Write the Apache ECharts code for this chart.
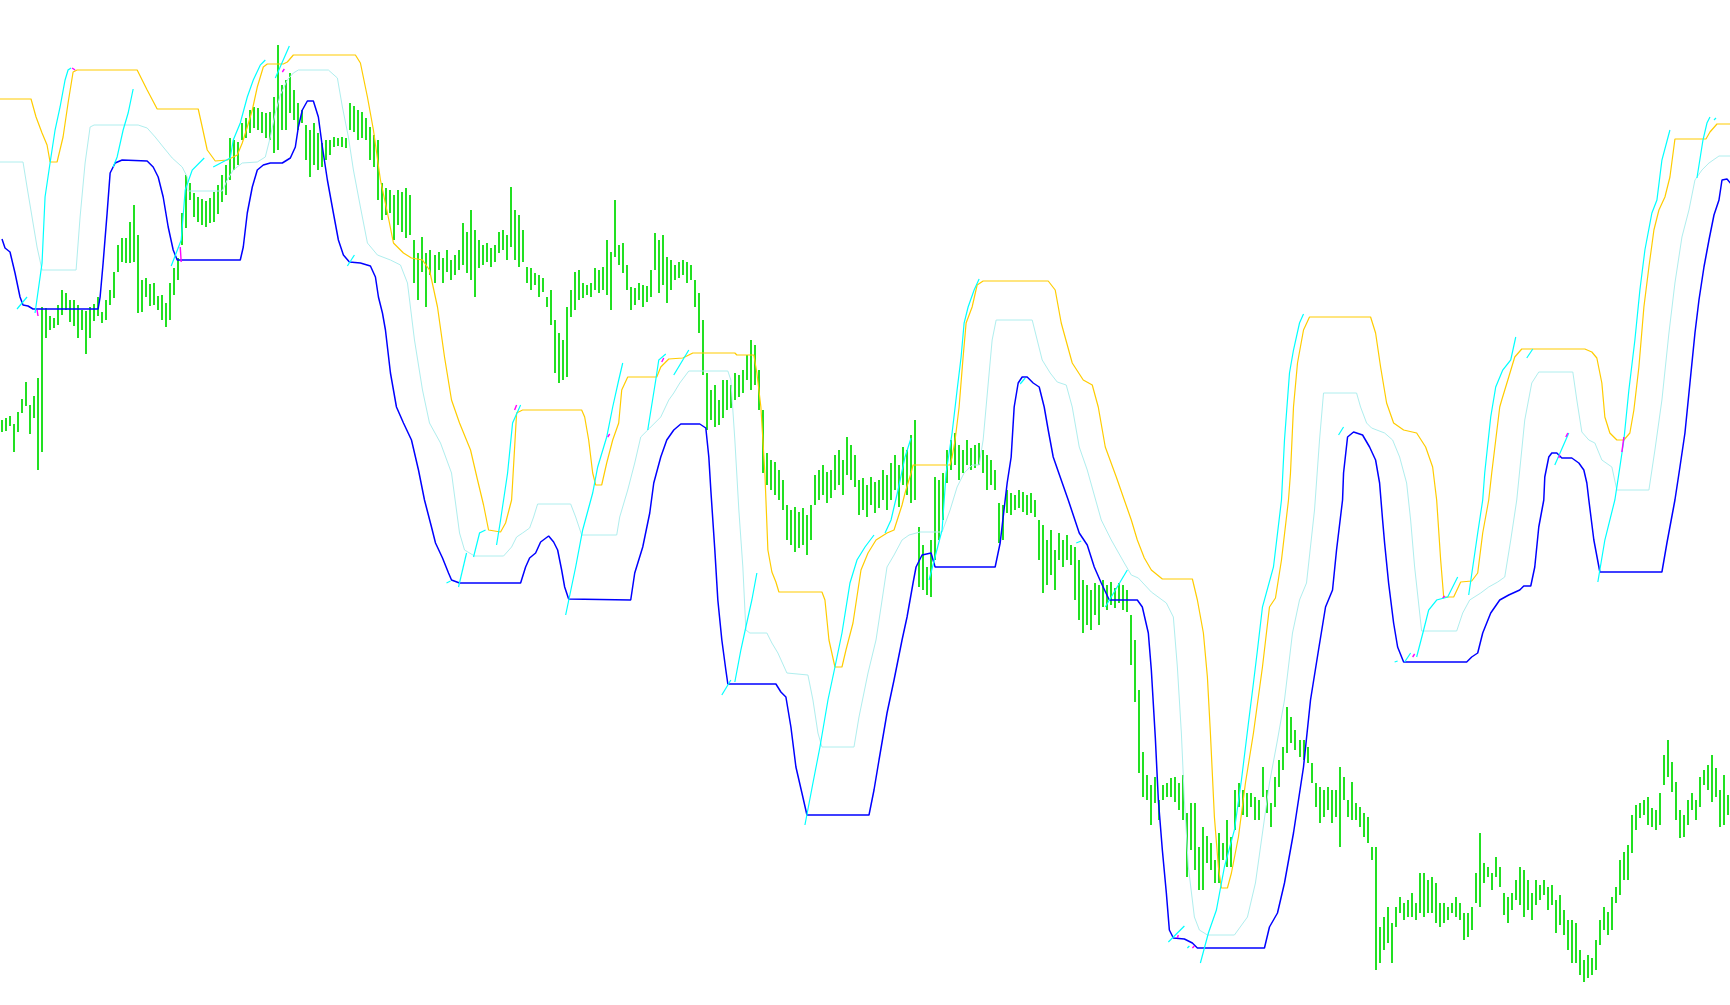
<!DOCTYPE html>
<html><head><meta charset="utf-8">
<script src="https://cdn.jsdelivr.net/npm/echarts@6/dist/echarts.min.js"></script>
<style>html,body{margin:0;padding:0;background:#fff}#c{width:1730px;height:1005px}</style>
</head><body><div id="c"></div>
<script>
// price bars (high / low), one per bar index
const barHigh = [
580,582,584,576,588,601,618,595,604,622,
693,692,684,682,695,710,707,700,700,695,
690,689,693,696,703,688,700,710,728,755,
762,762,778,795,765,720,722,716,717,704,
705,697,717,732,742,787,825,817,807,803,
801,799,802,808,815,825,835,862,860,858,
877,882,890,893,892,888,887,888,903,955,
915,920,927,910,897,890,875,870,877,867,
857,860,860,863,862,863,862,897,894,890,
888,882,873,865,860,817,812,810,805,810,
808,812,805,760,747,763,747,750,745,748,
742,750,740,745,750,777,768,790,770,760,
755,757,752,755,768,770,765,813,790,785,
770,733,732,727,725,722,703,710,680,667,
660,693,710,728,730,717,715,717,732,730,
733,760,748,800,755,757,735,713,712,717,
715,714,730,767,760,765,743,740,735,738,
740,738,735,720,707,680,627,610,615,600,
620,620,615,627,625,630,645,660,655,630,
590,547,540,538,530,520,495,490,493,488,
492,485,495,525,530,535,528,530,545,550,
540,563,555,545,520,522,515,523,518,520,
530,525,537,545,535,553,550,565,580,473,
455,433,460,523,520,527,550,560,567,555,
550,560,552,555,557,550,545,540,530,497,
495,510,507,505,510,508,505,507,500,480,
475,460,470,450,467,460,465,455,453,440,
420,415,410,417,415,420,415,418,412,417,
415,410,385,360,310,248,225,215,223,200,
215,217,222,223,217,225,187,197,197,153,
173,164,157,140,167,157,180,163,210,217,
210,207,207,203,200,233,210,197,223,240,
253,293,283,270,260,260,253,237,217,213,
210,213,210,210,233,223,200,218,197,193,
187,183,153,153,73,83,93,77,93,103,
97,100,107,97,127,127,120,123,117,97,
97,93,97,103,97,87,87,93,127,167,
137,133,127,143,133,107,103,107,120,133,
130,120,107,120,115,120,113,115,100,105,
90,80,80,77,50,40,45,42,60,80,
93,88,103,113,140,148,155,185,195,197,
200,203,192,190,207,245,260,238,218,190,
185,200,207,200,223,230,235,245,232,210,
225,205
];
const barLow = [
568,569,574,548,568,587,594,566,582,530,
548,662,670,672,675,685,690,678,674,662,
670,646,662,679,684,677,680,695,702,728,
738,737,737,738,687,688,703,694,695,690,
680,673,680,705,720,755,772,800,783,778,
775,773,777,778,786,798,805,820,830,835,
860,862,867,872,870,867,862,860,847,850,
870,870,887,880,870,877,840,823,835,830,
833,840,845,853,854,853,852,870,868,860,
862,860,840,833,800,780,785,787,760,775,
768,762,765,717,700,728,693,725,717,730,
717,728,720,725,730,735,727,720,703,732,
735,738,733,738,747,750,740,753,740,733,
738,717,710,715,703,708,693,675,627,617,
620,623,683,690,700,702,705,703,710,707,
710,705,690,743,735,727,710,690,695,700,
693,698,703,730,707,715,697,710,720,722,
725,717,720,693,667,625,570,580,573,575,
582,590,592,600,603,607,620,610,615,590,
527,515,510,505,500,490,460,455,448,452,
455,445,460,495,500,505,497,502,510,515,
505,525,520,513,485,490,483,495,487,492,
500,490,500,510,493,515,505,497,500,413,
410,405,403,440,460,480,517,530,535,520,
527,535,530,532,535,527,510,515,510,457,
460,487,485,490,492,488,485,487,483,440,
407,415,425,410,440,433,440,435,400,380,
367,375,370,385,375,393,390,395,392,397,
390,388,335,298,227,203,200,175,197,180,
200,203,203,198,190,180,123,150,130,110,
110,137,130,117,117,140,133,133,170,193,
185,183,193,180,180,203,187,173,193,213,
230,247,257,250,243,240,237,217,193,177,
183,190,177,183,153,200,183,180,180,173,
163,157,140,30,37,50,57,37,73,87,
80,83,83,80,87,83,87,87,77,73,
77,80,87,83,80,60,63,70,97,93,
117,123,110,123,113,85,77,90,100,95,
83,90,80,95,100,105,90,95,67,75,
65,50,37,37,25,18,22,25,30,55,
70,65,70,97,105,120,120,147,170,182,
185,175,173,170,175,215,223,208,180,162,
163,175,190,180,193,215,210,198,203,173,
175,185
];
// channel lines: [bar index, price]
const upperBand = [[0,901],[7.75,901],[9,883],[10.5,867],[11.75,855],[12.5,838],[14.25,838],[15.75,863],[17,897],[18.25,928],[19.25,930],[34.25,930],[36.75,910],[39.25,891],[49.5,891],[50.5,873],[51.75,850],[53.75,839],[56.75,840],[59.25,845],[60.5,857],[61.75,873],[63,890],[64.25,913],[65.75,933],[66.75,936],[70.75,936],[71.75,938],[73.25,945],[88.75,945],[90,937],[91.75,903],[93.25,870],[95,820],[96.75,787],[98.25,757],[100.75,747],[102.75,742],[105.5,740],[107.25,730],[109.25,693],[111,643],[112.75,600],[114.75,577],[117.5,550],[119.25,520],[120.75,495],[122,470],[125,468],[126.25,477],[127.75,500],[128,517],[129,587],[130.5,590],[145.25,590],[146,583],[147,560],[148,527],[148.75,515],[150.25,515],[151.5,537],[153,560],[154.5,577],[155.25,610],[156.75,623],[164,623],[165,633],[167,641],[170.5,642],[173,647],[183.5,647],[184,645],[188.25,645],[189,627],[190,593],[191,527],[191.75,450],[192.75,428],[193.75,418],[194.5,408],[205.25,408],[206,400],[207,360],[208.5,333],[210.25,333],[211.25,350],[213,377],[215,430],[216.75,447],[218.75,460],[221.5,467],[223.25,470],[225.25,495],[226,507],[227.5,527],[228,535],[237.25,535],[237.75,543],[238.5,560],[239.5,593],[240.5,643],[241.25,677],[242.75,693],[244,715],[245.5,719],[261.75,719],[263.5,710],[265,677],[267.75,637],[270.5,620],[272.75,615],[274.25,593],[276,553],[278.75,523],[280.75,500],[282.5,480],[284,460],[285.75,442],[287.5,430],[290.25,421],[297.75,421],[299,400],[300.5,367],[301.5,323],[302.25,267],[303.25,183],[304.25,133],[305,112],[306.5,112],[307.5,127],[309.25,163],[311,217],[313,267],[315.25,333],[317,393],[318.5,402],[320,440],[321.75,500],[322.25,527],[323,593],[324,637],[325.5,670],[327,683],[342.25,683],[343.5,667],[344.75,633],[346.25,597],[348,577],[350.5,570],[353.75,567],[356,553],[357.75,533],[358.75,500],[359.75,440],[360.5,403],[363,403],[364.75,418],[367.5,419],[369,427],[370.25,467],[371.75,500],[372.5,527],[374.5,593],[375,600],[376.75,623],[378.25,643],[380,651],[395.75,651],[397.5,648],[398.75,642],[400,617],[400.75,583],[402,567],[403.75,560],[405.5,560],[407,567],[408,590],[409.25,633],[410.5,693],[411.75,733],[413,770],[414.25,790],[415.75,803],[417,823],[418.25,861],[426,861],[427,868],[428.75,876],[432.5,876]];
const middleBand = [[0,838],[5.75,838],[6.75,813],[8,783],[9.25,753],[10.5,730],[19,730],[20,783],[21.25,837],[22.5,873],[23.5,875],[34.5,875],[36.75,872],[38.75,863],[40.75,853],[43,842],[45.5,833],[46.75,823],[47,809],[55.5,809],[56.75,820],[58.25,830],[60.5,837],[64.25,838],[66.25,843],[67.5,863],[68.75,887],[70,905],[71.75,920],[73.25,927],[74.5,930],[82,930],[84.25,922],[85.5,893],[87,863],[88.25,830],[90,793],[91.75,757],[94.25,745],[97.5,740],[100,735],[101.75,717],[103.5,660],[105.5,610],[107.25,577],[110,557],[112.75,527],[114.75,467],[116,450],[118.5,444],[125.75,444],[127.75,453],[129,463],[130.5,467],[132.25,472],[133.25,483],[134.25,496],[142.5,496],[143.75,483],[145.25,465],[154,465],[154.75,483],[156.75,510],[158.5,537],[160,563],[162.25,572],[165,583],[167,600],[168.25,607],[169.75,617],[172,629],[181.75,629],[182.5,620],[183.5,560],[184.5,490],[185.5,433],[186.25,370],[187.25,367],[191.5,367],[192.75,357],[194.25,347],[196.5,327],[201.75,325],[203,300],[204.25,267],[205.25,253],[213.25,253],[214.5,283],[216.75,327],[218.75,360],[220,393],[221.5,433],[223.25,445],[225.25,460],[227,465],[229.75,468],[235.25,468],[237.25,490],[239,513],[240.75,527],[242.75,535],[244.5,535],[245.5,560],[247,627],[247.75,660],[248.75,680],[257.75,680],[259,660],[260.25,640],[262.25,627],[264,618],[266.25,615],[267.75,593],[269.5,553],[271.5,530],[273.25,505],[275,480],[277.5,460],[280.75,437],[282.5,425],[284.25,422],[287.5,408],[291.25,397],[293,383],[294,333],[295,267],[295.75,200],[296.75,133],[298.25,83],[299.5,70],[301.5,65],[308.25,65],[311.5,83],[313.5,117],[315.25,167],[317,217],[319,260],[320.75,300],[322.75,367],[324.5,400],[326.25,417],[328.25,490],[329.5,560],[330.5,607],[338.75,607],[339.75,593],[341.25,577],[342.5,572],[345.75,567],[347.75,560],[349.5,543],[351.25,517],[352.25,480],[353.25,433],[355,369],[363.75,369],[365.25,387],[367,400],[369.75,407],[371.75,413],[374,418],[375.75,423],[377.25,460],[378.75,500],[380.75,580],[382.5,617],[384.25,628],[392.75,628],[393.75,600],[395,568],[396.75,560],[398.25,557],[400,540],[402.5,533],[403.75,510],[411.75,510],[413.25,550],[415,600],[416.75,667],[418.25,717],[420,763],[421.75,790],[423.25,820],[425,830],[426.75,837],[429.25,844],[432.5,844]];
const lowerBand = [[0.5,761],[1.25,752],[2.5,748],[3.75,727],[5,703],[5.75,695],[7,694],[8.25,691],[24.5,691],[25,703],[25.75,737],[26.75,787],[27.5,827],[28.75,837],[30.5,840],[36.75,839],[38.25,833],[39.5,823],[40.75,803],[42,773],[43.25,750],[44.25,740],[60,740],[60.75,753],[61.75,787],[63,813],[64.25,830],[65.75,835],[67.5,837],[70.5,837],[72.5,842],[73.75,853],[74.5,873],[75.5,890],[76.75,899],[78.25,899],[79.5,883],[80.5,853],[81.75,820],[83.25,787],[84.5,760],[85.75,745],[87.25,738],[90,737],[92.5,734],[93.75,723],[94.5,703],[95.5,687],[96.25,670],[97.5,627],[99,593],[100.75,577],[102.75,560],[104.5,530],[106,500],[107.75,473],[108.75,457],[110.5,442],[112,427],[112.75,420],[114.75,417],[130,417],[131.25,433],[132.25,442],[133.75,447],[135,458],[137,464],[138.25,458],[139.25,450],[140.25,430],[141,413],[142,401],[157.5,400],[158.5,427],[160.5,453],[162.25,487],[163.25,517],[165,543],[166.5,560],[168.25,570],[170,576],[174.75,576],[176.25,572],[177,543],[177.5,510],[178.5,450],[179.25,400],[180.25,360],[181.25,330],[181.75,316],[193.75,316],[195,308],[196.25,303],[197.5,273],[198.75,233],[200.25,207],[201.5,185],[217,185],[218.25,210],[219.5,240],[221.5,287],[223.25,320],[225.25,360],[226.5,383],[228,417],[228.75,433],[230.25,445],[232.5,447],[233.5,433],[248.5,433],[249.75,457],[251,500],[251.5,517],[252.5,543],[253.25,593],[254.25,617],[255.25,623],[256.5,623],[258,617],[259.5,613],[260.75,593],[261.75,570],[263,543],[265,520],[266.75,500],[269.5,467],[271.5,455],[273.25,433],[275,417],[277,400],[284,400],[285.25,393],[286.75,367],[287.5,330],[288.5,262],[289.25,200],[290.25,150],[291.25,107],[292,70],[293,62],[295.75,61],[297.75,57],[299,52],[315.75,52],[317,73],[319,87],[320.75,117],[323,167],[325.5,233],[327.25,300],[329.25,350],[331,393],[332.75,410],[333.75,450],[335.25,500],[335.5,527],[336.5,563],[338,568],[340.25,565],[342,553],[343.5,540],[344.5,517],[345.25,480],[345.75,457],[346.75,417],[348,377],[349,353],[350.5,338],[366.25,338],[367.5,343],[369,347],[370.25,367],[372.25,387],[374.5,400],[376.75,405],[379.5,410],[380.5,414],[382.25,414],[383.25,433],[384.25,473],[385.5,500],[385.75,523],[386.75,543],[387.5,547],[388.75,547],[390,542],[392.5,542],[394.25,537],[395.5,530],[396.25,517],[396.75,500],[398,460],[399.5,428],[415,428],[416.25,457],[418.25,500],[419.5,533],[420.75,567],[422,617],[423.25,667],[424.25,700],[425.5,733],[426.75,760],[428,785],[429.25,800],[430,820],[431.25,821],[432.5,815]];
// short signal traces (cyan) and marks (magenta)
const signalSegments = [
[[4.25,691],[6.75,703]],
[[8.75,687],[10.5,737],[11.25,803],[12.5,837],[13.75,870],[15,893],[16.25,920],[17,930],[17.75,932]],
[[28.25,833],[29.25,843],[30.75,870],[32,887],[33.25,911]],
[[42.75,734],[45.25,760],[46.25,810],[48,830],[51,842]],
[[53.25,833],[57.5,842]],
[[57.5,842],[58.25,860],[60,877],[61.75,903],[63.25,920],[65,935],[66.25,940]],
[[68.75,922],[72.25,954]],
[[86.75,734],[88.5,745]],
[[111.5,417],[112.5,419]],
[[114.5,413],[116.5,447]],
[[118.25,443],[119.75,467],[121.25,470]],
[[124,455],[125,480],[126.75,527],[128,577],[130,595]],
[[141.25,385],[143.75,433],[145.5,470],[148,507],[149.25,533],[151.5,563],[153,593],[154.5,620],[155.5,637]],
[[161.75,570],[163.75,620],[164.5,640],[166.25,646]],
[[168.25,625],[172,650]],
[[180.25,305],[182.5,320]],
[[183.5,318],[185,350],[186.25,373],[187.75,400],[189,427]],
[[201,175],[203,217],[204.75,253],[206.75,300],[208.5,333],[210.25,367],[212.25,417],[214,440],[216,453],[218.25,465]],
[[221,467],[222.5,480],[224.25,510],[226,543],[227.5,562]],
[[232,420],[235.25,470],[236.25,527],[237.75,567],[239,610],[240,643],[240.75,677],[241.75,693],[243.25,710],[244.5,721]],
[[254.75,616],[256,622]],
[[268.75,457],[270,459]],
[[276,393],[281.5,430]],
[[291.75,58],[295.75,74]],
[[296.5,52],[297,54]],
[[299.75,37],[301.75,67],[303.75,90],[305.75,133],[308.25,170],[310,220],[311.75,277],[313,317],[314,350],[315.25,393],[318,433],[320,500],[320.75,560],[322,627],[323,650],[324.5,677],[325.5,686]],
[[334.25,565],[335.5,573]],
[[348.25,338],[349,339]],
[[350.75,338],[352.25,347]],
[[353.75,343],[355.5,370],[356.75,390],[358.75,400],[361.5,403],[364,423]],
[[366.75,405],[369,467],[370.25,500],[370.75,527],[372.25,583],[373.5,613],[375.25,630],[377.25,640],[378.5,663]],
[[381.25,642],[382.75,651]],
[[388.25,535],[391.75,567]],
[[399,418],[400.75,460],[403.25,500],[404.5,533],[405.5,560],[406.75,610],[408.25,660],[409.5,710],[410.75,750],[412.5,787],[413.75,800],[415,840],[417,870]],
[[423.75,822],[425.25,860],[426.25,877],[427,883]],
[[428,880],[428.5,882]]
];
const markerSegments = [
[[18,932],[18.75,930]],
[[9.25,690],[9.5,684]],
[[45,753],[45.25,738]],
[[70.5,928],[71,931]],
[[128.5,590],[129,595]],
[[151.75,563],[152.25,566]],
[[165.25,638],[165.75,642]],
[[294,62],[294.25,65]],
[[297.75,52],[298.25,54]],
[[352.75,343],[353.25,346]],
[[360.25,402],[360.75,404]],
[[405,548],[405.5,563]],
[[389.25,542],[389.5,545]],
[[391,563],[391.5,567]]
];

const chart = echarts.init(document.getElementById('c'), null, {renderer: 'canvas'});
const N = barHigh.length;
const barData = barHigh.map((h, i) => [i + 0.5, barLow[i], h]);

chart.setOption({
  animation: false,
  backgroundColor: '#ffffff',
  grid: {left: 0, right: 0, top: 0, bottom: 0, containLabel: false},
  xAxis: {type: 'value', min: 0, max: N, show: false},
  yAxis: {type: 'value', min: -5, max: 1000, show: false},
  series: [
    {
      type: 'custom',
      silent: true,
      z: 1,
      encode: {x: 0, y: [1, 2]},
      data: barData,
      renderItem: function (params, api) {
        const x = api.value(0);
        const top = api.coord([x, api.value(2)]);
        const bot = api.coord([x, api.value(1)]);
        return {
          type: 'rect',
          shape: {x: Math.round(top[0]) - 1, y: Math.round(top[1]), width: 2, height: Math.max(1, Math.round(bot[1] - top[1]))},
          style: {fill: '#22e022'}
        };
      }
    },
    {type: 'line', data: middleBand, symbol: 'none', silent: true, z: 2, lineStyle: {color: '#afeeee', width: 1}},
    {type: 'line', data: upperBand, symbol: 'none', silent: true, z: 3, lineStyle: {color: '#ffcc00', width: 1.2}},
    {type: 'line', data: lowerBand, symbol: 'none', silent: true, z: 3, lineStyle: {color: '#0000ff', width: 1.5}},
    {
      type: 'lines', coordinateSystem: 'cartesian2d', polyline: true, silent: true, z: 4,
      data: signalSegments.map(c => ({coords: c})),
      lineStyle: {color: '#00ffff', width: 1.2, opacity: 1}
    },
    {
      type: 'lines', coordinateSystem: 'cartesian2d', polyline: true, silent: true, z: 5,
      data: markerSegments.map(c => ({coords: c})),
      lineStyle: {color: '#ff00ff', width: 1.4, opacity: 1}
    }
  ]
});
</script>
</body></html>
